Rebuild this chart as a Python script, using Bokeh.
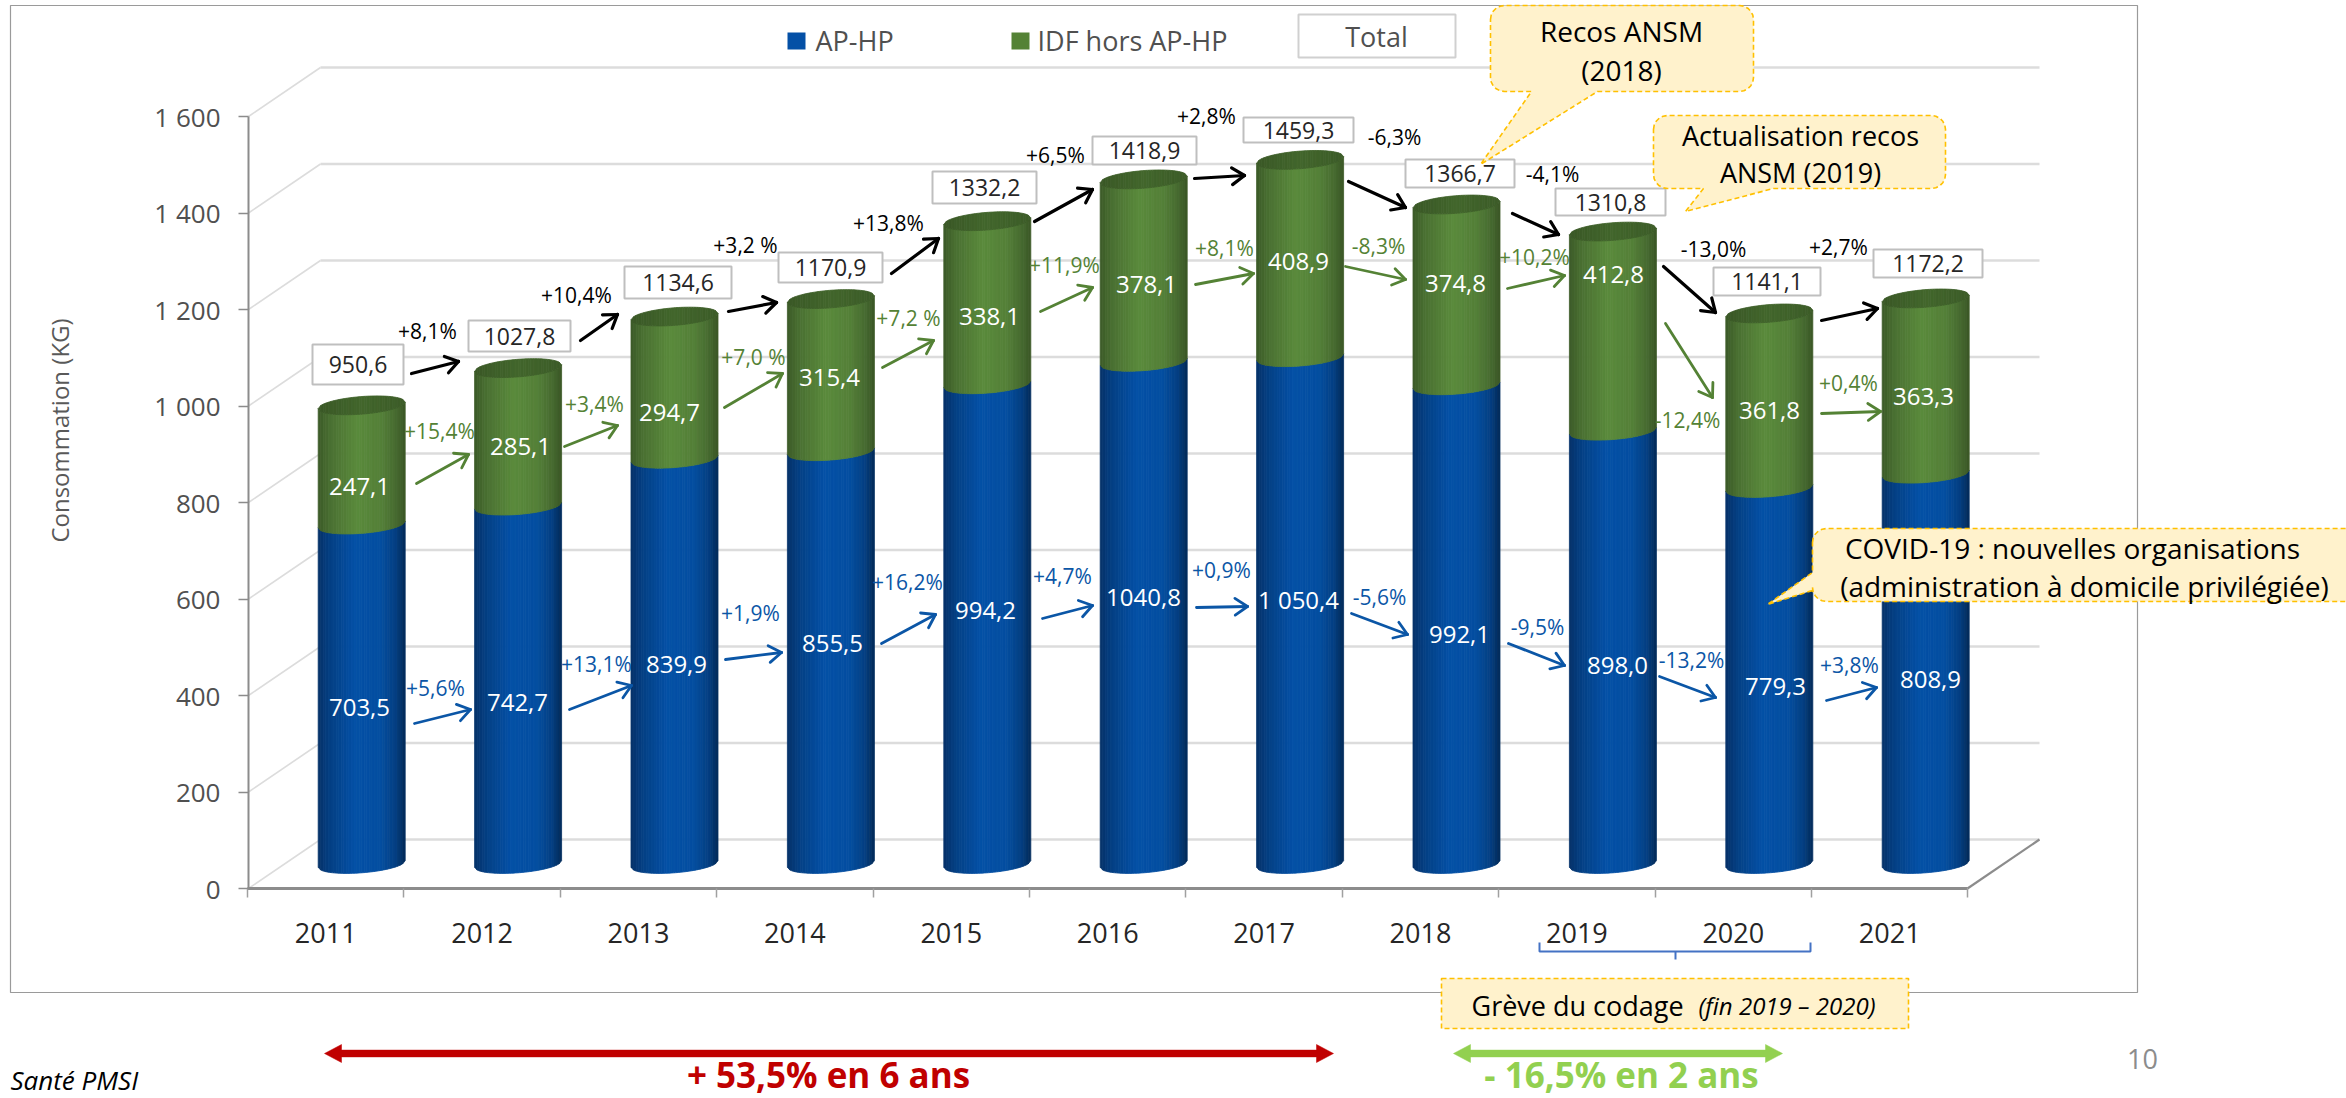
import math
from bokeh.plotting import figure
from bokeh.models import Range1d, FixedTicker
from bokeh.core.properties import value
from bokeh.embed import file_html
from bokeh.resources import INLINE

# ------------------------------------------------------------------ data
years = [2011, 2012, 2013, 2014, 2015, 2016, 2017, 2018, 2019, 2020, 2021]
ap_hp = [703.5, 742.7, 839.9, 855.5, 994.2, 1040.8, 1050.4, 992.1, 898.0, 779.3, 808.9]
idf_hors = [247.1, 285.1, 294.7, 315.4, 338.1, 378.1, 408.9, 374.8, 412.8, 361.8, 363.3]
totals = [950.6, 1027.8, 1134.6, 1170.9, 1332.2, 1418.9, 1459.3, 1366.7, 1310.8, 1141.1, 1172.2]
y_ticks = [0, 200, 400, 600, 800, 1000, 1200, 1400, 1600]
y_tick_labels = ["0", "200", "400", "600", "800", "1 000", "1 200", "1 400", "1 600"]

ap_labels = ["703,5", "742,7", "839,9", "855,5", "994,2", "1040,8", "1 050,4", "992,1", "898,0", "779,3", "808,9"]
idf_labels = ["247,1", "285,1", "294,7", "315,4", "338,1", "378,1", "408,9", "374,8", "412,8", "361,8", "363,3"]
total_labels = ["950,6", "1027,8", "1134,6", "1170,9", "1332,2", "1418,9", "1459,3", "1366,7", "1310,8", "1141,1", "1172,2"]
total_pct = ["+8,1%", "+10,4%", "+3,2 %", "+13,8%", "+6,5%", "+2,8%", "-6,3%", "-4,1%", "-13,0%", "+2,7%"]
idf_pct = ["+15,4%", "+3,4%", "+7,0 %", "+7,2 %", "+11,9%", "+8,1%", "-8,3%", "+10,2%", "-12,4%", "+0,4%"]
ap_pct = ["+5,6%", "+13,1%", "+1,9%", "+16,2%", "+4,7%", "+0,9%", "-5,6%", "-9,5%", "-13,2%", "+3,8%"]

# ------------------------------------------------------------------ layout (page pixels of the reference)
PAGE = 0
W, H = 2346, 1098
X_STEP = 156.4          # px per year
X_2011 = 325.2          # px of the 2011 category centre
Y_ZERO = 888.0          # px of value 0 on the front axis
Y_UNIT = 0.4825         # px per kg
DEPTH_X, DEPTH_Y = 72.0, 49.0


def X(px):
    return 2011 + (px - X_2011) / X_STEP


def Y(py):
    return (Y_ZERO - py) / Y_UNIT


p = figure(width=W, height=H, output_backend="svg", toolbar_location=None,
           x_range=Range1d(X(PAGE), X(PAGE + W)), y_range=Range1d(Y(PAGE + H), Y(PAGE)),
           min_border=0, min_border_left=0, min_border_right=0, min_border_top=0, min_border_bottom=0)
p.outline_line_color = None
p.grid.visible = False
p.background_fill_color = "white"
FONT = value("Open Sans")

# chart frame
p.quad(left=[X(10)], right=[X(2137)], top=[Y(5)], bottom=[Y(992)], fill_color="white",
       line_color="#9a9a9a", line_width=1.2)

# 3D walls
x_front_l, x_front_r = X(248), X(1967)
dx_v, dy_v = DEPTH_X / X_STEP, DEPTH_Y / Y_UNIT
p.segment(x0=[x_front_l + dx_v] * len(y_ticks), x1=[x_front_r + dx_v] * len(y_ticks),
          y0=[v + dy_v for v in y_ticks], y1=[v + dy_v for v in y_ticks],
          line_color="#dcdcdc", line_width=2.6)
p.segment(x0=[x_front_l] * len(y_ticks), x1=[x_front_l + dx_v] * len(y_ticks),
          y0=y_ticks, y1=[v + dy_v for v in y_ticks], line_color="#dcdcdc", line_width=1.6)
p.segment(x0=[x_front_r], x1=[x_front_r + dx_v], y0=[0], y1=[dy_v], line_color="#8c8c8c", line_width=2.2)

# axes: own scale, placed inside the single frame
yax = p.yaxis[0]
yax.fixed_location = X(248)
yax.bounds = (0, 1600)
yax.ticker = FixedTicker(ticks=y_ticks)
yax.major_label_overrides = dict(zip(y_ticks, y_tick_labels))
yax.major_label_text_font = "Open Sans"
yax.major_label_text_font_size = "26px"
yax.major_label_text_color = "#505050"
yax.major_tick_out = 10
yax.major_tick_in = 0
yax.minor_tick_line_color = None
yax.major_tick_line_color = "#8c8c8c"
yax.major_tick_line_width = 1.5
yax.axis_line_color = "#8c8c8c"
yax.axis_line_width = 2
yax.major_label_standoff = 18

xax = p.xaxis[0]
xax.fixed_location = 0
xax.bounds = (X(247), X(1967))
xax.ticker = FixedTicker(ticks=years, minor_ticks=[y - 0.5 for y in years] + [years[-1] + 0.5])
xax.major_label_overrides = {y: str(y) for y in years}
xax.major_label_text_font = "Open Sans"
xax.major_label_text_font_size = "27px"
xax.major_label_text_color = "#262626"
xax.major_tick_line_color = None
xax.major_tick_out = 0
xax.major_tick_in = 0
xax.minor_tick_out = 9
xax.minor_tick_in = 0
xax.minor_tick_line_color = "#a0a0a0"
xax.minor_tick_line_width = 1.5
xax.axis_line_color = "#8c8c8c"
xax.axis_line_width = 3.2
xax.major_label_standoff = 25


# ------------------------------------------------------------------ cylinders
def mix(stops, t):
    for (a, ca), (b, cb) in zip(stops, stops[1:]):
        if t <= b:
            f = (t - a) / (b - a)
            rgb = [round(ca[i] + (cb[i] - ca[i]) * f) for i in range(3)]
            return "#%02x%02x%02x" % tuple(rgb)
    return "#%02x%02x%02x" % tuple(stops[-1][1])


BLUE = [(-1, (6, 50, 104)), (-0.72, (4, 64, 132)), (-0.15, (4, 80, 166)), (0.45, (4, 78, 160)),
        (0.8, (4, 62, 128)), (1, (3, 42, 88))]
GREEN = [(-1, (60, 90, 40)), (-0.72, (74, 112, 50)), (-0.1, (90, 138, 60)), (0.45, (84, 128, 56)),
         (0.8, (70, 106, 48)), (1, (58, 86, 38))]
TOP = [(-1, (58, 88, 38)), (0, (66, 102, 44)), (1, (60, 92, 40))]

RX_PX = 43.5            # cylinder half width
TILT_PX = 3.3           # right side of an ellipse is this much higher
RY_PX = 8.8             # ellipse half height
N = 34
cx_off = DEPTH_X / 2 / X_STEP
cy_off = DEPTH_Y / 2 / Y_UNIT
rx = RX_PX / X_STEP
tilt = TILT_PX / Y_UNIT
ry = RY_PX / Y_UNIT
ts = [-1 + 2 * i / N for i in range(N + 1)]


def curve(t, sign):
    return tilt * t + sign * ry * math.sqrt(max(0, 1 - t * t))


def segment_strips(year, low, high, stops, top_sign=-1):
    xs, ys, cols = [], [], []
    cx = year + cx_off
    for a, b in zip(ts, ts[1:]):
        xs.append([cx + a * rx, cx + b * rx, cx + b * rx, cx + a * rx])
        ys.append([low + cy_off + curve(a, -1), low + cy_off + curve(b, -1),
                   high + cy_off + curve(b, top_sign), high + cy_off + curve(a, top_sign)])
        cols.append(mix(stops, (a + b) / 2))
    return xs, ys, cols


for yr, a, g in zip(years, ap_hp, idf_hors):
    for low, high, stops in ((0, a, BLUE), (a, a + g, GREEN)):
        xs, ys, cols = segment_strips(yr, low, high, stops)
        p.patches(xs=xs, ys=ys, fill_color=cols, line_color=cols, line_width=0.8)
    t = a + g
    xs, ys, cols = [], [], []
    cx = yr + cx_off
    for u, v in zip(ts, ts[1:]):
        xs.append([cx + u * rx, cx + v * rx, cx + v * rx, cx + u * rx])
        ys.append([t + cy_off + curve(u, -1), t + cy_off + curve(v, -1),
                   t + cy_off + curve(v, 1), t + cy_off + curve(u, 1)])
        cols.append(mix(TOP, (u + v) / 2))
    p.patches(xs=xs, ys=ys, fill_color=cols, line_color=cols, line_width=0.8)


# ------------------------------------------------------------------ helpers for annotations
def texts(px, py, labels, size, color, align="center", baseline="middle", style="normal", angle=0.0):
    p.text(x=[X(v) for v in px], y=[Y(v) for v in py], text=labels, text_font=FONT,
           text_font_size=size, text_color=color, text_align=align, text_baseline=baseline,
           text_font_style=style, angle=angle)


def arrows(coords, color, width=2.8, arm=15.0, spread=math.radians(34)):
    x0, x1, y0, y1 = [], [], [], []
    for (a, b, c, d) in coords:
        x0.append(X(a)); y0.append(Y(b)); x1.append(X(c)); y1.append(Y(d))
        ang = math.atan2(d - b, c - a)
        for s in (-1, 1):
            x0.append(X(c)); y0.append(Y(d))
            x1.append(X(c - arm * math.cos(ang + s * spread)))
            y1.append(Y(d - arm * math.sin(ang + s * spread)))
    p.segment(x0=x0, y0=y0, x1=x1, y1=y1, line_color=color, line_width=width, line_cap="round")


def callout(x0, y0, x1, y1, r=14, tail=None, side=None):
    pts = []
    def arc(cx, cy, a0):
        for i in range(6):
            a = math.radians(a0 + 18 * i)
            pts.append((cx + r * math.cos(a), cy + r * math.sin(a)))
    arc(x0 + r, y0 + r, 180)
    arc(x1 - r, y0 + r, 270)
    arc(x1 - r, y1 - r, 0)
    if side == "bottom":
        pts.extend(tail)
    arc(x0 + r, y1 - r, 90)
    if side == "left":
        pts.extend(tail)
    p.patch(x=[X(a) for a, _ in pts], y=[Y(b) for _, b in pts], fill_color="#fff2cc",
            line_color="#ffc000", line_width=1.6, line_dash="5 3")


# ------------------------------------------------------------------ total boxes
box_l = [312, 468, 624, 778, 932, 1092, 1243, 1405, 1555, 1713, 1873]
box_r = [403, 570, 731, 882, 1036, 1196, 1353, 1514, 1665, 1820, 1982]
box_t = [344, 320, 266, 252, 171, 136, 117, 159, 188, 267, 249]
box_b = [384, 351, 298, 282, 203, 164, 142, 187, 215, 295, 277]
p.quad(left=[X(v) for v in box_l], right=[X(v) for v in box_r], top=[Y(v) for v in box_t],
       bottom=[Y(v) for v in box_b], fill_color="white", line_color="#bfbfbf", line_width=2)
texts([(a + b) / 2 for a, b in zip(box_l, box_r)], [(a + b) / 2 for a, b in zip(box_t, box_b)],
      total_labels, "23px", "#262626")

# value labels on the bars
texts([359, 517, 676, 832, 985, 1143, 1298, 1459, 1617, 1775, 1930],
      [707, 702, 664, 643, 610, 597, 599, 634, 665, 686, 679], ap_labels, "24px", "white")
texts([359, 520, 669, 829, 989, 1146, 1298, 1455, 1613, 1769, 1923],
      [486, 446, 412, 377, 316, 284, 261, 283, 274, 410, 396], idf_labels, "24px", "white")

# evolution labels and arrows
texts([427, 576, 745, 888, 1055, 1206, 1394, 1552, 1713, 1838],
      [330, 294, 244, 222, 154, 115, 136, 173, 248, 246], total_pct, "21px", "black")
arrows([(411, 373, 458, 361), (580, 340, 617, 314), (728, 311, 776, 302), (891, 273, 938, 238),
        (1034, 221, 1092, 189), (1194, 178, 1244, 175), (1348, 181, 1405, 207), (1512, 213, 1558, 234),
        (1663, 266, 1715, 312), (1821, 320, 1877, 308)], "black", width=3.2)

GREEN_TXT = "#548235"
texts([439, 594, 753, 908, 1064, 1224, 1378, 1534, 1687, 1848],
      [430, 403, 356, 317, 264, 247, 245, 256, 419, 382], idf_pct, "21px", GREEN_TXT)
arrows([(416, 483, 468, 454), (564, 446, 617, 425), (724, 407, 782, 373), (882, 367, 933, 340),
        (1040, 311, 1092, 287), (1195, 284, 1253, 273), (1345, 266, 1405, 279), (1507, 288, 1564, 275),
        (1665, 323, 1712, 397), (1821, 413, 1880, 411)], GREEN_TXT)

BLUE_TXT = "#0b56a6"
texts([435, 596, 750, 907, 1062, 1221, 1379, 1537, 1691, 1849],
      [687, 663, 612, 581, 575, 569, 596, 626, 659, 664], ap_pct, "21px", BLUE_TXT)
arrows([(414, 723, 470, 709), (569, 709, 631, 685), (725, 659, 781, 652), (881, 643, 935, 614),
        (1042, 618, 1092, 605), (1196, 607, 1247, 606), (1351, 613, 1407, 634), (1508, 643, 1564, 665),
        (1659, 676, 1715, 697), (1826, 700, 1876, 687)], BLUE_TXT)

# axis title
texts([59], [430], ["Consommation (KG)"], "24px", "#595959", angle=math.pi / 2)

# legend
p.quad(left=[X(787), X(1011)], right=[X(805), X(1029)], top=[Y(32), Y(32)], bottom=[Y(49), Y(49)],
       fill_color=["#0450a6", "#548235"], line_color=None)
texts([815, 1037], [40, 40], ["AP-HP", "IDF hors AP-HP"], "27px", "#505050", align="left")
p.quad(left=[X(1298)], right=[X(1455)], top=[Y(14)], bottom=[Y(57)], fill_color="white",
       line_color="#d0d0d0", line_width=2)
texts([1376], [36], ["Total"], "27px", "#505050")

# call-outs
callout(1490, 5, 1753, 91, tail=[(1597, 91), (1480, 164), (1531, 91)], side="bottom")
texts([1621, 1621], [30, 69], ["Recos ANSM", "(2018)"], "28px", "black")
callout(1653, 115, 1945, 188, tail=[(1773, 188), (1685, 211), (1703, 188)], side="bottom")
texts([1800, 1800], [135, 172], ["Actualisation recos", "ANSM (2019)"], "27px", "black")
callout(1812, 528, 2380, 601, tail=[(1812, 590), (1767, 604), (1812, 572)], side="left")
texts([2072, 2084], [547, 585], ["COVID-19 : nouvelles organisations", "(administration à domicile privilégiée)"],
      "28px", "black")

# strike bracket and call-out
p.multi_line(xs=[[X(1539), X(1539), X(1810), X(1810)], [X(1675), X(1675)]],
             ys=[[Y(942), Y(951), Y(951), Y(942)], [Y(951), Y(959)]], line_color="#4472c4", line_width=2)
p.quad(left=[X(1441)], right=[X(1908)], top=[Y(978)], bottom=[Y(1028)], fill_color="#fff2cc",
       line_color="#ffc000", line_width=1.6, line_dash="5 3")
texts([1471], [1005], ["Grève du codage"], "27px", "black", align="left")
texts([1698], [1005], ["(fin 2019 – 2020)"], "24px", "black", align="left", style="italic")


# period arrows
def double_arrow(xa, xb, py, color, half=3.4, head=17, hh=9):
    xs = [xa, xa + head, xa + head, xb - head, xb - head, xb, xb - head, xb - head, xa + head, xa + head]
    ys = [py, py - hh, py - half, py - half, py - hh, py, py + hh, py + half, py + half, py + hh]
    p.patch(x=[X(v) for v in xs], y=[Y(v) for v in ys], fill_color=color, line_color=color, line_width=0.5)


double_arrow(324, 1333, 1053, "#c00000")
double_arrow(1453, 1782, 1053, "#92d050")
texts([828], [1074], ["+ 53,5% en 6 ans"], "35px", "#c00000", style="bold")
texts([1621], [1074], ["- 16,5% en 2 ans"], "35px", "#92d050", style="bold")

# page furniture
texts([10], [1079], ["Santé PMSI"], "26px", "black", align="left", style="italic")
texts([2142], [1058], ["10"], "27px", "#8c8c8c")

open("out.html", "w").write(file_html(p, INLINE))
